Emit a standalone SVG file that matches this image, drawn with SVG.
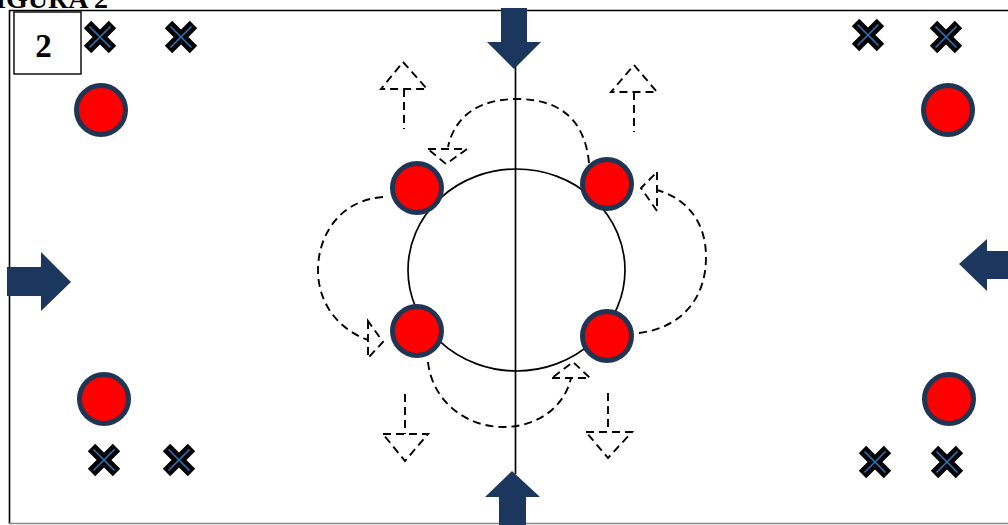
<svg xmlns="http://www.w3.org/2000/svg" width="1008" height="525" viewBox="0 0 1008 525">
  <style>
    .arrow { fill: #1c375e; }
    .dash { fill: none; stroke: #000; stroke-width: 1.9; stroke-dasharray: 8 5; }
    .line { fill: none; stroke: #000; stroke-width: 1.7; }
    .player { fill: #ff0000; stroke: #1f3554; stroke-width: 5; }
    .title { font-family: "Liberation Serif", serif; font-weight: bold; fill: #000; }
  </style>
  <defs>
    <g id="xmark">
      <path d="M-12.5,-12.5 L12.5,12.5 M12.5,-12.5 L-12.5,12.5" stroke="#000" stroke-width="10.5" fill="none"/>
      <path d="M-10.5,-10.5 L10.5,10.5 M10.5,-10.5 L-10.5,10.5" stroke="#2e75b6" stroke-width="1.6" fill="none"/>
    </g>
  </defs>
  <rect width="1008" height="525" fill="#fff"/>

  <text class="title" x="108" y="8" font-size="28" text-anchor="end">FIGURA 2</text>

  <g id="field">
    <line x1="9.5" y1="10.5" x2="1008" y2="10.5" stroke="#000" stroke-width="1.6"/>
    <line x1="9.5" y1="10" x2="9.5" y2="524" stroke="#000" stroke-width="1.6"/>
    <line x1="9" y1="523.5" x2="1008" y2="523.5" stroke="#888" stroke-width="1.6"/>
    <line class="line" x1="515.5" y1="66" x2="515.5" y2="474"/>
    <ellipse class="line" cx="516.5" cy="270" rx="108.5" ry="101"/>
  </g>

  <g id="label-box">
    <rect x="14" y="12" width="67" height="62" fill="#fff" stroke="#000" stroke-width="1.4"/>
    <text class="title" x="43.5" y="57" font-size="33" text-anchor="middle">2</text>
  </g>

  <g id="connectors">
    <path class="dash" d="M589,163 C585,120 560,99 517,99 C480,99 455,115 448,147"/>
    <polygon class="dash" points="428,149 467,149 446,164"/>
    <path class="dash" d="M383,197 C340,200 318,235 318,270 C318,305 340,330 368,340"/>
    <polygon class="dash" points="368,321 368,358 383,342"/>
    <path class="dash" d="M639,333 C680,328 706,300 706,257 C706,220 685,198 657,190"/>
    <polygon class="dash" points="657,172 657,211 641,188"/>
    <path class="dash" d="M428,362 C432,400 465,427 503,427 C540,427 565,405 571,378"/>
    <polygon class="dash" points="552,378 590,378 573,362"/>
    <polygon class="dash" points="403,62 427,89 381,89"/>
    <line class="dash" x1="404" y1="89" x2="404" y2="129"/>
    <polygon class="dash" points="634,65 657,92 611,92"/>
    <line class="dash" x1="634" y1="92" x2="634" y2="132"/>
    <polygon class="dash" points="383,434 428,434 405,461"/>
    <line class="dash" x1="405" y1="394" x2="405" y2="434"/>
    <polygon class="dash" points="586,432 632,432 608,458"/>
    <line class="dash" x1="608" y1="393" x2="608" y2="432"/>
    <polygon class="arrow" points="501,8 527,8 527,42 541,42 514,69 487,42 501,42"/>
    <polygon class="arrow" points="512,471 540,497 526,497 526,525 499,525 499,497 485,497"/>
    <polygon class="arrow" points="7,267 41,267 41,252 71,282 41,311 41,296 7,296"/>
    <polygon class="arrow" points="959,264 987,239 987,251 1008,251 1008,279 987,279 987,291"/>
  </g>

  <g id="inner-players">
    <circle class="player" cx="417" cy="188" r="24.5"/>
    <circle class="player" cx="607" cy="184" r="24.5"/>
    <circle class="player" cx="417" cy="331" r="24.5"/>
    <circle class="player" cx="607" cy="336" r="24.5"/>
  </g>

  <g id="corner-players">
    <circle class="player" cx="101" cy="110" r="24.5"/>
    <circle class="player" cx="948" cy="110" r="24.5"/>
    <circle class="player" cx="104" cy="399" r="24.5"/>
    <circle class="player" cx="949" cy="399" r="24.5"/>
  </g>

  <g id="cones">
    <use href="#xmark" x="100" y="37"/>
    <use href="#xmark" x="181" y="37"/>
    <use href="#xmark" x="868" y="35"/>
    <use href="#xmark" x="946" y="37"/>
    <use href="#xmark" x="104" y="460"/>
    <use href="#xmark" x="179" y="460"/>
    <use href="#xmark" x="875" y="462"/>
    <use href="#xmark" x="947" y="462"/>
  </g>
</svg>
